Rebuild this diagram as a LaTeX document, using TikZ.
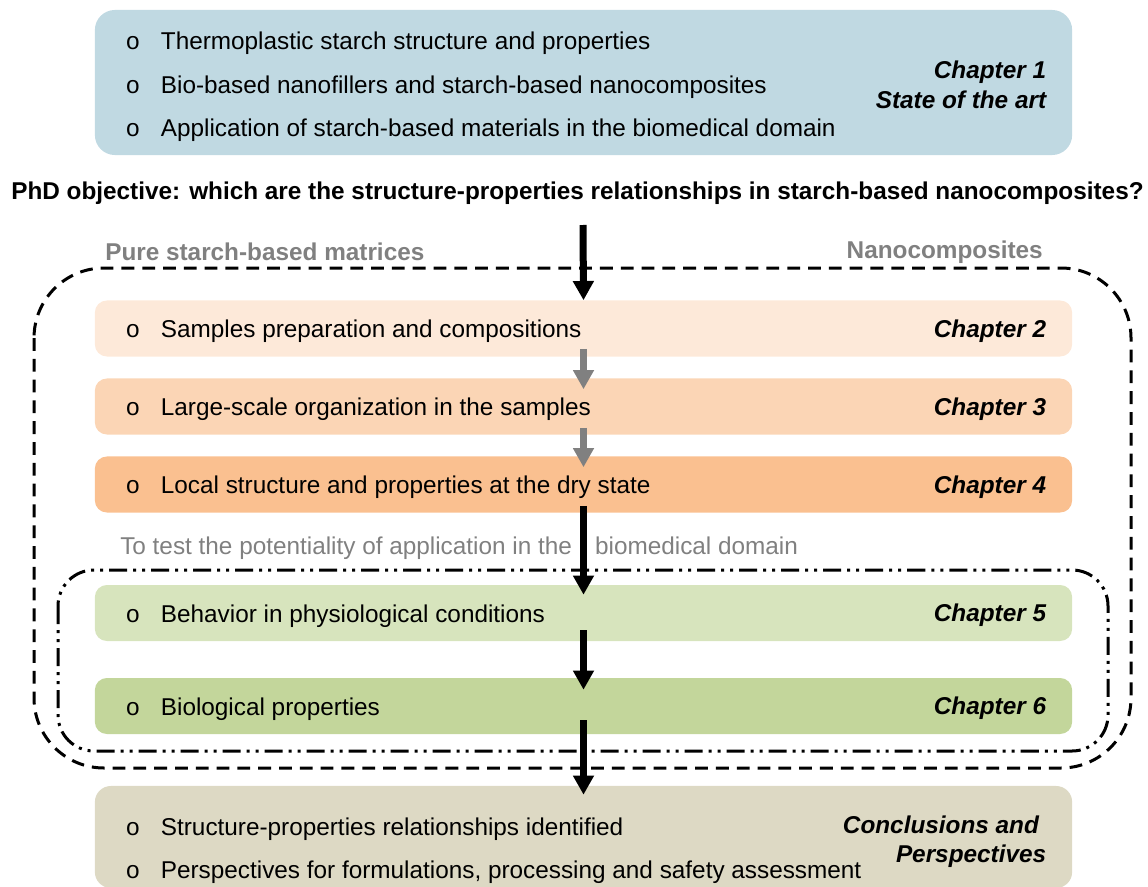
\documentclass[tikz,border=0pt]{standalone}
\usepackage{fontspec}
\setmainfont{Liberation Sans}
\setmonofont{Liberation Mono}
\usetikzlibrary{arrows.meta,positioning}

\definecolor{artblue}{RGB}{192,217,226}
\definecolor{prepcol}{RGB}{253,233,217}
\definecolor{orgcol}{RGB}{251,213,181}
\definecolor{localcol}{RGB}{250,192,144}
\definecolor{physcol}{RGB}{215,228,189}
\definecolor{biocol}{RGB}{195,214,155}
\definecolor{conclcol}{RGB}{221,217,196}
\definecolor{labelgray}{RGB}{128,128,128}

% bullet item: small ring then the text
\newcommand{\itm}[1]{\makebox[1cm][l]{\hspace{0.12cm}\texttt{o}}#1}

\begin{document}
\begin{tikzpicture}[
        x=0.025cm, y=-0.025cm,
        every node/.style={font=\fontsize{17.3}{20}\selectfont},
        chapbox/.style={rectangle, rounded corners=0.3cm, minimum width=24.425cm, minimum height=1.4cm, inner sep=0},
        items/.style={anchor=west, align=left, inner sep=0, xshift=0.65cm, yshift=-0.08cm, font=\fontsize{17.3}{30.9}\selectfont},
        chap/.style={anchor=east, align=right, inner sep=0, xshift=-0.65cm, yshift=-0.06cm, font=\fontsize{17.3}{21}\selectfont\bfseries\itshape},
        side/.style={inner sep=0, text=labelgray, font=\fontsize{17.3}{20}\selectfont\bfseries},
        arrow/.style={line width=0.175cm, -{Triangle[length=0.48cm, width=0.5cm]}},
        dashframe/.style={line width=0.075cm, rounded corners=1.75cm, dash pattern=on 0.32cm off 0.2cm},
        dotframe/.style={line width=0.075cm, rounded corners=0.9cm, dash pattern=on 0.45cm off 0.15cm on 0.075cm off 0.15cm on 0.075cm off 0.15cm}
    ]
        \useasboundingbox (0,0) rectangle (1148,886);

        % frames around the two groups of chapters
        \draw[dashframe] (34,268) rectangle (1131,768);
        \draw[dotframe] (58,570) rectangle (1108,751);

        % chapter 1
        \node (ch1) [chapbox, rounded corners=0.5cm, minimum height=3.625cm, fill=artblue] at (583.5,82.5) {};
        \node (ch1items) [items, yshift=-0.03cm] at (ch1.west) {\itm{Thermoplastic starch structure and properties}\\
            \itm{Bio-based nanofillers and starch-based nanocomposites}\\
            \itm{Application of starch-based materials in the biomedical domain}};
        \node (ch1label) [chap] at (ch1.east) {Chapter 1\\State of the art};

        \node (objective) [anchor=west, inner sep=0, font=\fontsize{17.3}{20}\selectfont\bfseries] at (11,193)
            {PhD objective: which are the structure-properties relationships in starch-based nanocomposites?};
        \coordinate (objarrow) at (583,225);

        \node (pure) [side, anchor=west] at (105,252) {Pure starch-based matrices};
        \node (nano) [side, anchor=east] at (1043,252) {Nanocomposites};

        % chapters 2 to 4
        \node (ch2) [chapbox, fill=prepcol] at (583.5,328.5) {};
        \node (ch2item) [items] at (ch2.west) {\itm{Samples preparation and compositions}};
        \node (ch2label) [chap] at (ch2.east) {Chapter 2};

        \node (ch3) [chapbox, fill=orgcol] at (583.5,406.5) {};
        \node (ch3item) [items] at (ch3.west) {\itm{Large-scale organization in the samples}};
        \node (ch3label) [chap] at (ch3.east) {Chapter 3};

        \node (ch4) [chapbox, fill=localcol] at (583.5,484.5) {};
        \node (ch4item) [items] at (ch4.west) {\itm{Local structure and properties at the dry state}};
        \node (ch4label) [chap] at (ch4.east) {Chapter 4};

        \node (totest) [anchor=west, inner sep=0, text=labelgray] at (120,548)
            {To test the potentiality of application in the\hspace{0.58cm}biomedical domain};

        % chapters 5 and 6
        \node (ch5) [chapbox, fill=physcol] at (583.5,613) {};
        \node (ch5item) [items] at (ch5.west) {\itm{Behavior in physiological conditions}};
        \node (ch5label) [chap] at (ch5.east) {Chapter 5};

        \node (ch6) [chapbox, fill=biocol] at (583.5,706) {};
        \node (ch6item) [items] at (ch6.west) {\itm{Biological properties}};
        \node (ch6label) [chap] at (ch6.east) {Chapter 6};

        % conclusions
        \node (concl) [chapbox, rounded corners=0.4cm, minimum height=2.55cm, fill=conclcol] at (583.5,837) {};
        \node (conclitems) [items, yshift=-0.26cm] at (concl.west) {\itm{Structure-properties relationships identified}\\
            \itm{Perspectives for formulations, processing and safety assessment}};
        \node (concllabel) [chap, yshift=-0.06cm] at (concl.east) {Conclusions and\hspace*{0.18cm}\\Perspectives};

        \draw[arrow] (objarrow) -- (ch2.north);
        \draw[arrow, draw=labelgray] ([yshift=0.2cm]ch2.south) -- ([yshift=-0.275cm]ch3.north);
        \draw[arrow, draw=labelgray] ([yshift=0.175cm]ch3.south) -- ([yshift=-0.275cm]ch4.north);
        \draw[arrow] ([yshift=0.175cm]ch4.south) -- ([yshift=-0.25cm]ch5.north);
        \draw[arrow] ([yshift=0.275cm]ch5.south) -- ([yshift=-0.3cm]ch6.north);
        \draw[arrow] ([yshift=0.35cm]ch6.south) -- ([yshift=-0.225cm]concl.north);
    \end{tikzpicture}
\end{document}
